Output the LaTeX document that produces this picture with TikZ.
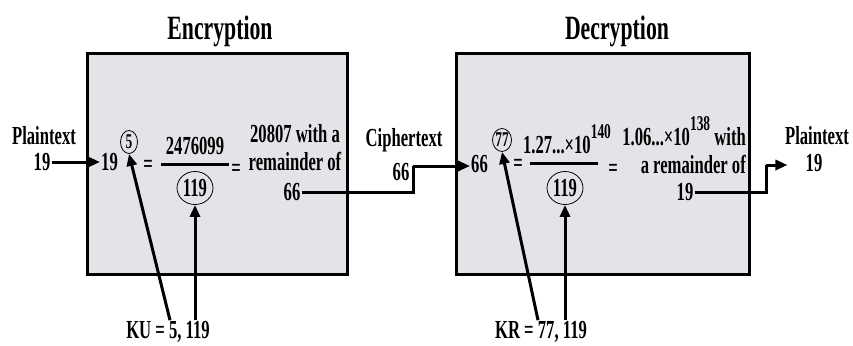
\documentclass[tikz,border=0pt]{standalone}
\usepackage{fontspec}
\setmainfont{Liberation Serif}[FakeStretch=0.64]
\usepackage{tikz}
\usetikzlibrary{arrows.meta, positioning, shapes.geometric}
\definecolor{boxgray}{RGB}{229,227,232}
\newcommand{\highexp}[1]{\raisebox{0.6em}{\fontsize{21}{23}\selectfont #1}}

\begin{document}
\begin{tikzpicture}[
    x=1pt, y=-1pt,
    every node/.style={font=\bfseries\fontsize{26}{28}\selectfont, inner sep=1pt, align=center},
    title/.style={font=\bfseries\fontsize{34}{36}\selectfont},
    keybox/.style={draw, line width=3pt, fill=boxgray, minimum height=220pt},
    expo/.style={draw, ellipse, line width=0.8pt, inner sep=0pt, minimum width=17pt, minimum height=23pt, font=\bfseries\fontsize{21}{23}\selectfont},
    modbox/.style={draw, ellipse, line width=0.8pt, inner sep=0pt, minimum width=36pt, minimum height=33pt},
    fracbar/.style={fill, minimum width=68pt, minimum height=3pt, inner sep=0pt},
    arr/.style={-{Triangle[length=12pt, width=10pt]}, line width=3pt},
    wire/.style={line width=3pt}
]
\useasboundingbox (0,0) rectangle (853,345);

% the two boxes and their titles
\node (encbox) [keybox, minimum width=260pt] at (217,164) {};
\node (decbox) [keybox, minimum width=293pt] at (602.5,164) {};
\node (enctitle) [title] at (220,31) {Encryption};
\node (dectitle) [title] at (617,31) {Decryption};

% input
\node (ptlbl) at (44,136) {Plaintext};
\node (ptin) at (42,162) {19};

% encryption
\node (enc19) [anchor=west] at (100,162) {19};
\node (encexp) [expo] at (129,142) {5};
\node (eq1) at (148,166) {=};
\node (encnum) at (195,146) {2476099};
\node (encbar) [fracbar] at (195,164) {};
\node (encmod) [modbox] at (195,188) {119};
\node (eq2) at (236,170) {=};
\node (encres) at (295,148) {20807 with a\\remainder of};
\node (encout) at (292,192) {66};

% ciphertext
\node (ctlbl) at (404,140) {Ciphertext};
\node (ctnum) at (401,172) {66};
\coordinate (step1) at (413,166);

% decryption
\node (dec66) [anchor=west] at (470,164) {66};
\node (decexp) [expo] at (502,140) {77};
\node (eq3) at (518,165) {=};
\node (decnum) at (567,139) {1.27...×10\highexp{140}};
\node (decbar) [fracbar] at (564,163) {};
\node (decmod) [modbox] at (565,188) {119};
\node (eq4) at (613,170) {=};
\node (decres) [anchor=east, align=right] at (747,145) {1.06...×10\highexp{138} with\\a remainder of};
\node (decout) at (685,192) {19};
\coordinate (step2) at (766,165);

% output
\node (outlbl) at (817,136) {Plaintext};
\node (outnum) at (814,163) {19};

% keys
\node (kulbl) at (168,332) {KU = 5, 119};
\node (krlbl) at (541,332) {KR = 77, 119};

% connectors
\draw[arr] (ptin) -- (enc19);
\draw[wire] (encout) -| (step1);
\draw[arr] (step1) -- (step1 -| dec66.west);
\draw[wire] (decout) -| (step2);
\draw[arr, shorten >=17pt] (step2) -- (step2 -| outnum.west);
\draw[arr] ([xshift=2pt]kulbl.north) -- (encexp.south);
\draw[arr] (kulbl.north -| encmod) -- (encmod.south);
\draw[arr] ([xshift=-3pt]krlbl.north) -- (decexp.south);
\draw[arr] (krlbl.north -| decmod) -- (decmod.south);
\end{tikzpicture}
\end{document}
